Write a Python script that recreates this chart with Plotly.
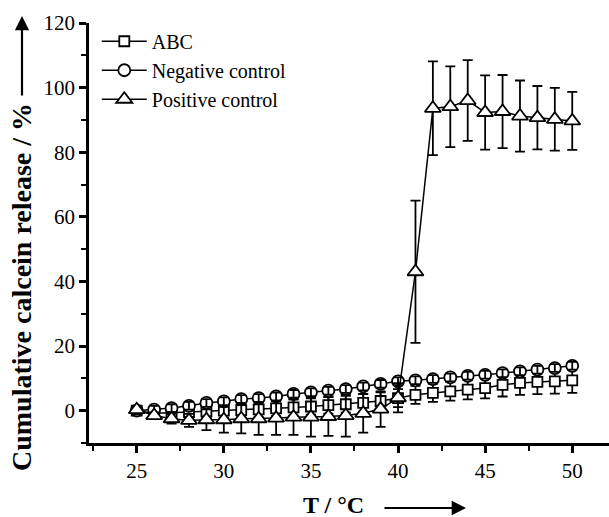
import plotly.graph_objects as go

temps = list(range(25, 51))

abc = [0, -0.8, -0.6, -0.4, -0.2, 0, 0.2, 0.4, 0.7, 1.0, 1.3, 1.7, 2.0, 2.4, 3.0, 3.9,
       4.9, 5.5, 6.0, 6.5, 7.0, 8.0, 8.6, 8.9, 9.1, 9.4]
abc_err = [0.5, 1.5, 1.8, 2.0, 2.0, 2.2, 2.2, 2.4, 2.4, 2.5, 2.5, 2.6, 2.6, 2.7, 2.7, 2.8,
           2.8, 2.8, 2.9, 3.0, 3.2, 3.6, 3.7, 3.8, 3.8, 3.9]

neg = [0, 0.3, 0.8, 1.5, 2.4, 2.9, 3.6, 3.9, 4.4, 5.2, 5.7, 6.2, 6.7, 7.5, 8.3, 9.1,
       9.4, 9.8, 10.3, 10.8, 11.1, 11.6, 12.2, 12.7, 13.2, 13.9]
neg_err = [1.2] * 26

pos = [0.3, -1.5, -2.5, -3.0, -2.8, -2.8, -2.5, -2.5, -2.3, -2.0, -2.0, -1.8, -1.5, -0.8,
       0.5, 4.0, 43.0, 93.6, 94.1, 96.0, 92.3, 92.6, 91.2, 90.7, 90.2, 89.7]
pos_err = [0.5, 1.0, 1.5, 2.0, 3.2, 4.0, 4.5, 5.0, 5.2, 5.5, 6.0, 6.0, 6.5, 6.0, 5.5, 4.5,
           22.0, 14.5, 12.5, 12.5, 11.5, 11.3, 11.0, 9.8, 9.7, 9.0]

x_ticks = [25, 30, 35, 40, 45, 50]
y_ticks = [0, 20, 40, 60, 80, 100, 120]

FONT = "Liberation Serif"

def err(vals, w=5):
    return dict(type="data", array=vals, visible=True, color="black", thickness=1.8, width=w)

fig = go.Figure()
fig.add_trace(go.Scatter(
    x=temps, y=abc, name="ABC", mode="lines+markers",
    line=dict(color="black", width=1.5),
    marker=dict(symbol="square", size=10, color="white", line=dict(color="black", width=1.8)),
    error_y=err(abc_err),
))
fig.add_trace(go.Scatter(
    x=temps, y=neg, name="Negative control", mode="lines+markers",
    line=dict(color="black", width=1.5),
    marker=dict(symbol="circle", size=12, color="white", line=dict(color="black", width=1.8)),
    error_y=err(neg_err, 4),
))
fig.add_trace(go.Scatter(
    x=temps, y=neg, mode="markers", showlegend=False, hoverinfo="skip",
    marker=dict(size=1, opacity=0),
    error_y=err(neg_err, 4),
))
fig.add_trace(go.Scatter(
    x=temps, y=pos, name="Positive control", mode="lines+markers",
    line=dict(color="black", width=1.5),
    marker=dict(symbol="triangle-up", size=14, color="white", line=dict(color="black", width=1.8)),
    error_y=err(pos_err),
))

fig.update_layout(
    width=609, height=517,
    margin=dict(l=89, r=0, t=23, b=74),
    plot_bgcolor="white", paper_bgcolor="white",
    font=dict(family=FONT, size=21, color="black"),
    showlegend=True,
    legend=dict(x=0.015, y=1.003, xanchor="left", yanchor="top",
                bgcolor="rgba(0,0,0,0)", font=dict(family=FONT, size=20),
                itemwidth=45, tracegroupgap=0),
    xaxis=dict(range=[22.26, 52.11], tickvals=x_ticks, showline=True, linewidth=2.5,
               linecolor="black", ticks="outside", ticklen=7, tickwidth=2.5, tickcolor="black",
               showgrid=False, zeroline=False,
               minor=dict(dtick=2.5, tick0=25, ticks="outside", ticklen=5, tickwidth=2, tickcolor="black"),
               tickfont=dict(family=FONT, size=21)),
    yaxis=dict(range=[-10, 120], tickvals=y_ticks, showline=True, linewidth=2.5,
               linecolor="black", ticks="outside", ticklen=7, tickwidth=2.5, tickcolor="black",
               showgrid=False, zeroline=False,
               minor=dict(dtick=10, tick0=0, ticks="outside", ticklen=5, tickwidth=2, tickcolor="black"),
               tickfont=dict(family=FONT, size=21)),
    annotations=[
        dict(text="<b>Cumulative calcein release / %</b>", xref="paper", yref="paper",
             x=(21 - 89) / 520, y=(443 - 287) / 420, showarrow=False, textangle=-90,
             font=dict(family=FONT, size=28), xanchor="center", yanchor="middle"),
        dict(text="<b>T / °C</b>", xref="paper", yref="paper",
             x=(333 - 89) / 520, y=(443 - 505) / 420, showarrow=False,
             font=dict(family=FONT, size=24), xanchor="center", yanchor="middle"),
        dict(text="", xref="paper", yref="paper", x=(22 - 89) / 520, y=(443 - 16) / 420,
             ax=0, ay=81, axref="pixel", ayref="pixel", showarrow=True,
             arrowhead=2, arrowsize=1.3, arrowwidth=2.2, arrowcolor="black"),
        dict(text="", xref="paper", yref="paper", x=(466 - 89) / 520, y=(443 - 508) / 420,
             ax=-83, ay=0, axref="pixel", ayref="pixel", showarrow=True,
             arrowhead=2, arrowsize=1.3, arrowwidth=2.2, arrowcolor="black"),
    ],
)

fig.write_html("out.html")
